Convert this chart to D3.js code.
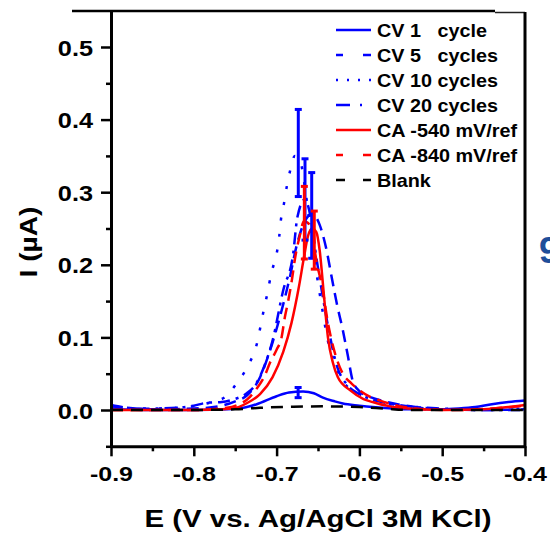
<!DOCTYPE html>
<html>
<head>
<meta charset="utf-8">
<script src="https://cdn.jsdelivr.net/npm/d3@7"></script>
<style>
  body { margin: 0; background: #fff; }
  text { font-family: "Liberation Sans", Arial, sans-serif; font-weight: bold; fill: #000; }
</style>
</head>
<body>
<script>
'use strict';

// axis ticks
const xTicks = [-0.9, -0.8, -0.7, -0.6, -0.5, -0.4];
const xMinor = [-0.85, -0.75, -0.65, -0.55, -0.45];
const yTicks = [0.0, 0.1, 0.2, 0.3, 0.4, 0.5];
const yMinor = [-0.05, 0.05, 0.15, 0.25, 0.35, 0.45];

const seriesNames = ["CV 1   cycle", "CV 5   cycles", "CV 10 cycles", "CV 20 cycles",
  "CA -540 mV/ref", "CA -840 mV/ref", "Blank"];

// [E (V), I (uA)]
const cv1 = [[-0.9, 0.001], [-0.85, 0], [-0.8, 0], [-0.76, 0.001], [-0.74, 0.003], [-0.724, 0.008],
  [-0.7, 0.019], [-0.685, 0.024], [-0.668, 0.0255], [-0.655, 0.023], [-0.644, 0.017], [-0.63, 0.012],
  [-0.62, 0.009], [-0.6, 0.006], [-0.584, 0.004], [-0.56, 0.002], [-0.54, 0.001], [-0.5, 0.001],
  [-0.48, 0.002], [-0.46, 0.004], [-0.44, 0.008], [-0.42, 0.011], [-0.4, 0.013]];

const cv5 = [[-0.9, 0.007], [-0.88, 0.003], [-0.85, 0.001], [-0.8, 0.002], [-0.77, 0.005], [-0.75, 0.012],
  [-0.736, 0.02], [-0.72, 0.045], [-0.71, 0.075], [-0.698, 0.12], [-0.685, 0.178], [-0.675, 0.23],
  [-0.665, 0.262], [-0.657, 0.27], [-0.648, 0.255], [-0.64, 0.222], [-0.633, 0.18], [-0.627, 0.145],
  [-0.62, 0.11], [-0.614, 0.075], [-0.608, 0.04], [-0.6, 0.026], [-0.585, 0.017], [-0.57, 0.012],
  [-0.55, 0.007], [-0.53, 0.004], [-0.5, 0.001], [-0.45, 0], [-0.4, 0.001]];

const cv10 = [[-0.9, 0.005], [-0.86, 0.002], [-0.82, 0.003], [-0.792, 0.007], [-0.775, 0.012],
  [-0.762, 0.018], [-0.748, 0.037], [-0.736, 0.058], [-0.722, 0.1], [-0.718, 0.124], [-0.712, 0.156],
  [-0.706, 0.19], [-0.7, 0.215], [-0.697, 0.237], [-0.695, 0.26], [-0.691, 0.285], [-0.688, 0.306],
  [-0.684, 0.328], [-0.678, 0.35], [-0.672, 0.345], [-0.665, 0.3], [-0.658, 0.24], [-0.652, 0.19],
  [-0.645, 0.14], [-0.638, 0.095], [-0.63, 0.065], [-0.62, 0.04], [-0.6, 0.022], [-0.58, 0.013],
  [-0.56, 0.007], [-0.53, 0.003], [-0.5, 0.001], [-0.45, 0.001], [-0.4, 0.002]];

const cv20 = [[-0.9, 0.006], [-0.88, 0.001], [-0.85, 0.002], [-0.82, 0.003], [-0.8, 0.006], [-0.784, 0.01],
  [-0.766, 0.011], [-0.754, 0.014], [-0.736, 0.023], [-0.726, 0.034], [-0.715, 0.06], [-0.705, 0.095],
  [-0.692, 0.165], [-0.68, 0.215], [-0.675, 0.265], [-0.666, 0.29], [-0.658, 0.26], [-0.652, 0.21],
  [-0.647, 0.175], [-0.637, 0.11], [-0.627, 0.06], [-0.615, 0.035], [-0.6, 0.022], [-0.58, 0.013],
  [-0.56, 0.008], [-0.54, 0.005], [-0.5, 0.002], [-0.45, 0], [-0.4, 0]];

const ca540 = [[-0.9, 0], [-0.8, 0], [-0.77, 0.001], [-0.753, 0.002], [-0.735, 0.01], [-0.72, 0.022],
  [-0.705, 0.045], [-0.692, 0.08], [-0.682, 0.12], [-0.673, 0.17], [-0.667, 0.21], [-0.662, 0.24],
  [-0.657, 0.25], [-0.652, 0.245], [-0.648, 0.22], [-0.643, 0.16], [-0.638, 0.1], [-0.632, 0.065],
  [-0.626, 0.045], [-0.611, 0.027], [-0.595, 0.015], [-0.584, 0.011], [-0.563, 0.005], [-0.54, 0.002],
  [-0.5, 0], [-0.45, 0.001], [-0.42, 0.004], [-0.4, 0.007]];

const ca840 = [[-0.9, 0], [-0.8, 0], [-0.76, 0.003], [-0.745, 0.008], [-0.736, 0.014], [-0.725, 0.028],
  [-0.714, 0.048], [-0.708, 0.065], [-0.7, 0.083], [-0.694, 0.1], [-0.69, 0.128], [-0.686, 0.15],
  [-0.681, 0.183], [-0.678, 0.207], [-0.672, 0.24], [-0.667, 0.26], [-0.66, 0.255], [-0.651, 0.2],
  [-0.645, 0.17], [-0.638, 0.12], [-0.63, 0.08], [-0.62, 0.05], [-0.61, 0.037], [-0.603, 0.03],
  [-0.587, 0.018], [-0.575, 0.013], [-0.55, 0.005], [-0.52, 0.001], [-0.48, 0], [-0.44, 0.002],
  [-0.4, 0.006]];

const blank = [[-0.9, 0], [-0.8, 0], [-0.75, 0.001], [-0.72, 0.003], [-0.68, 0.0045], [-0.64, 0.005],
  [-0.6, 0.004], [-0.57, 0.002], [-0.54, 0], [-0.4, 0]];

// error bars: [E, I, +/- err]
const cv1Err = [-0.674, 0.024, 0.007];
const cv5Err = [-0.6576, 0.268, 0.059];
const cv10Err = [-0.6738, 0.354, 0.06];
const cv20Err = [-0.6657, 0.29, 0.056];
const ca540Err = [-0.6545, 0.234, 0.04];
const ca840Err = [-0.6665, 0.258, 0.05];

const BLUE = "#0000ff", RED = "#ff0000";

const series = [
  { name: seriesNames[0], data: cv1, err: cv1Err, color: BLUE, dash: null, legDash: null },
  { name: seriesNames[1], data: cv5, err: cv5Err, color: BLUE, dash: "12,7", legDash: "7,20,8" },
  { name: seriesNames[2], data: cv10, err: cv10Err, color: BLUE, dash: "3,13", legDash: "2,9" },
  { name: seriesNames[3], data: cv20, err: cv20Err, color: BLUE, dash: "12,6,3,6", legDash: "14,10,2,10" },
  { name: seriesNames[4], data: ca540, err: ca540Err, color: RED, dash: null, legDash: null },
  { name: seriesNames[5], data: ca840, err: ca840Err, color: RED, dash: "12,7", legDash: "7,20,8" },
  { name: seriesNames[6], data: blank, err: null, color: "#000", dash: "12,8", legDash: "9,18,8" }
];

const svg = d3.select("body").append("svg")
  .attr("width", 550)
  .attr("height", 535);

const xScale = d3.scaleLinear().domain([-0.9, -0.4]).range([111, 525]);
const yScale = d3.scaleLinear().domain([-0.05, 0.55]).range([446.3, 10.7]);

// horizontally stretched bold text (the original font runs wide)
function label(x, y, txt, size, sx, anchor, rot, color) {
  return svg.append("text")
    .attr("transform", `translate(${x},${y}) rotate(${rot || 0}) scale(${sx},1)`)
    .attr("text-anchor", anchor)
    .style("font-size", size + "px")
    .style("white-space", "pre")
    .style("fill", color || "#000")
    .text(txt);
}

// clip for the curves
svg.append("clipPath").attr("id", "plotClip")
  .append("rect").attr("x", 111).attr("y", 11).attr("width", 414).attr("height", 436);

const line = d3.line()
  .x(d => xScale(d[0]))
  .y(d => yScale(d[1]))
  .curve(d3.curveMonotoneX);

const plot = svg.append("g").attr("clip-path", "url(#plotClip)");

series.forEach(s => {
  plot.append("path")
    .datum(s.data)
    .attr("d", line)
    .attr("fill", "none")
    .attr("stroke", s.color)
    .attr("stroke-width", 2.5)
    .attr("stroke-dasharray", s.dash);
});

// error bars
series.filter(s => s.err).forEach(s => {
  const [e, i, er] = s.err;
  const g = plot.append("g").attr("stroke", s.color).attr("stroke-width", 3);
  const cx = xScale(e);
  g.append("line").attr("x1", cx).attr("x2", cx).attr("y1", yScale(i - er)).attr("y2", yScale(i + er));
  [i - er, i + er].forEach(v => {
    g.append("line").attr("x1", cx - 3.5).attr("x2", cx + 3.5).attr("y1", yScale(v)).attr("y2", yScale(v));
  });
});

// x axis
const xAxis = svg.append("g")
  .attr("transform", `translate(0,${yScale(-0.05)})`)
  .call(d3.axisBottom(xScale).tickValues(xTicks).tickSize(10).tickSizeOuter(0).tickFormat(d3.format(".1f")));
svg.append("g")
  .attr("transform", `translate(0,${yScale(-0.05)})`)
  .call(d3.axisBottom(xScale).tickValues(xMinor).tickSize(5).tickFormat(""))
  .select(".domain").remove();

// y axis
const yAxis = svg.append("g")
  .attr("transform", "translate(111,0)")
  .call(d3.axisLeft(yScale).tickValues(yTicks).tickSize(10).tickSizeOuter(0).tickFormat(d3.format(".1f")));
svg.append("g")
  .attr("transform", "translate(111,0)")
  .call(d3.axisLeft(yScale).tickValues(yMinor).tickSize(5).tickFormat(""))
  .select(".domain").remove();

svg.selectAll(".domain").attr("stroke", "#000").attr("stroke-width", 3);
svg.selectAll(".tick line").attr("stroke", "#000").attr("stroke-width", 2.5);

xAxis.selectAll(".tick text")
  .attr("y", 0).attr("dy", 0)
  .attr("transform", "translate(0,35) scale(1.25,1)")
  .style("font-size", "20px")
  .text(d => d3.format(".1f")(d).replace("−", "-"));

yAxis.selectAll(".tick text")
  .attr("x", 0).attr("dy", 0)
  .attr("transform", "translate(-18,8) scale(1.15,1)")
  .style("font-size", "22px");

// frame: top edge and right edge
svg.append("line").attr("x1", 72).attr("x2", 495).attr("y1", 11).attr("y2", 11)
  .attr("stroke", "#000").attr("stroke-width", 2.5);
svg.append("line").attr("x1", 495).attr("x2", 525).attr("y1", 12.5).attr("y2", 12.5)
  .attr("stroke", "#222").attr("stroke-width", 1.5);
svg.append("line").attr("x1", 525).attr("x2", 525).attr("y1", 12).attr("y2", yScale(-0.05) + 1.5)
  .attr("stroke", "#000").attr("stroke-width", 3);

// axis titles
label(318, 527, "E (V vs. Ag/AgCl 3M KCl)", 23, 1.28, "middle");
label(37, 242, "I (µA)", 23.5, 1.2, "middle", -90);

// legend
const leg = svg.append("g");
series.forEach((s, k) => {
  const yy = 30 + k * 25;
  leg.append("line")
    .attr("x1", 336).attr("x2", 371).attr("y1", yy).attr("y2", yy)
    .attr("stroke", s.color).attr("stroke-width", 2.5)
    .attr("stroke-dasharray", s.legDash);
  label(377, yy + 6.5, s.name, 18, 1.1, "start");
});

// fragment of neighbouring panel label
label(539, 263, "9", 36, 1, "start", 0, "#1f4e9a");
</script>
</body>
</html>
